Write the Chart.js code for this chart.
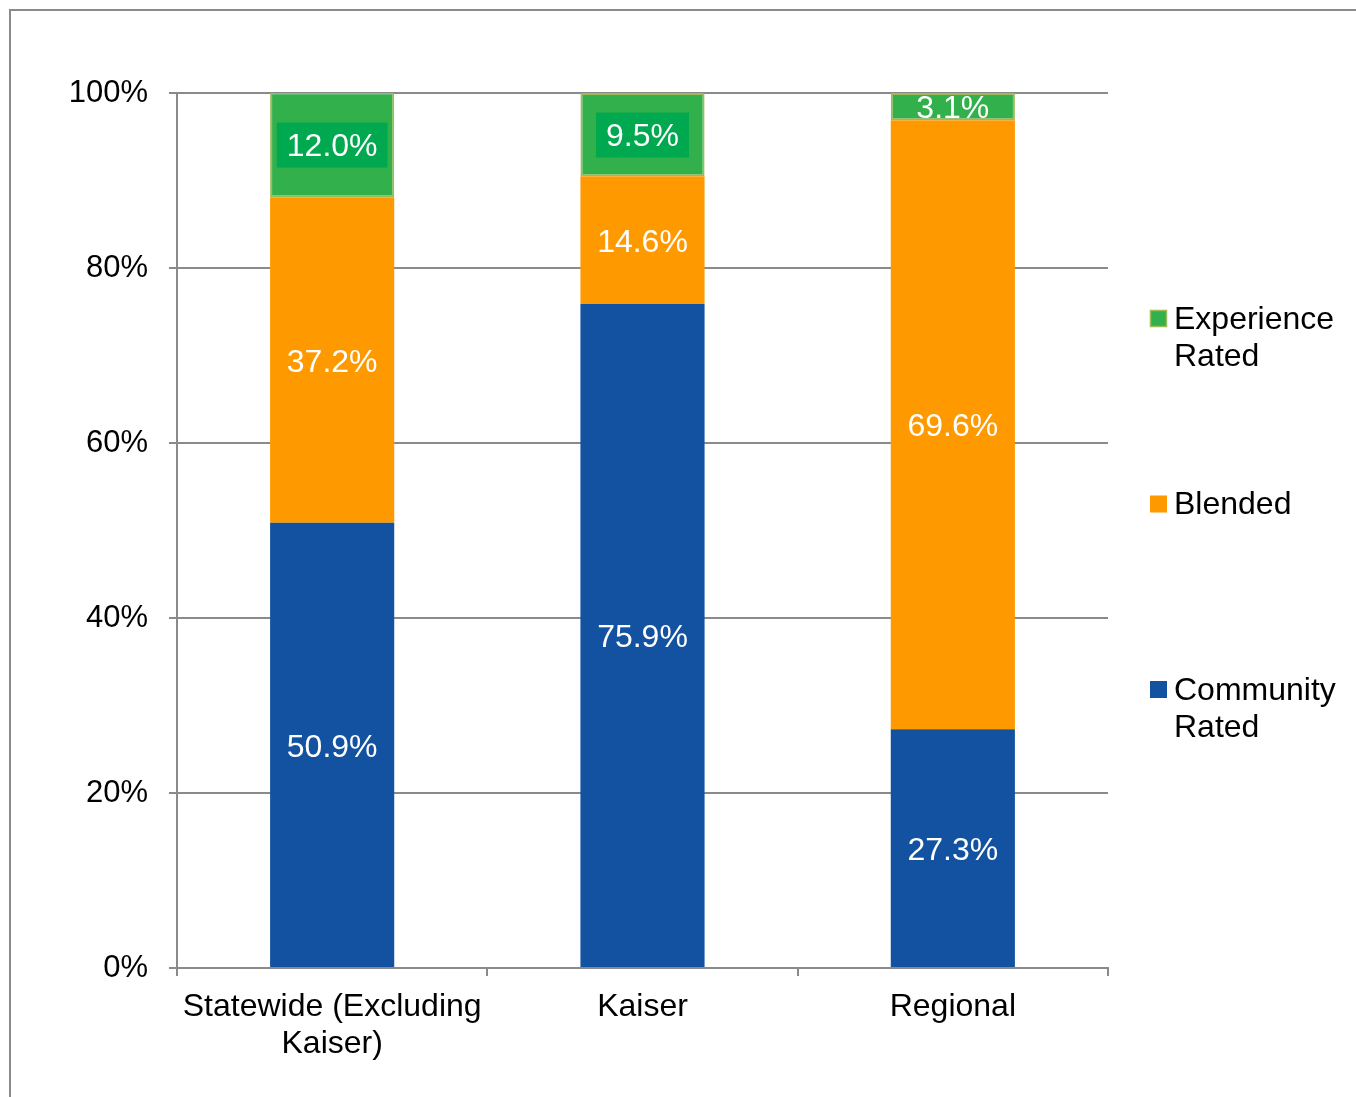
<!DOCTYPE html>
<html>
<head>
<meta charset="utf-8">
<script src="https://cdn.jsdelivr.net/npm/chart.js@4/dist/chart.umd.min.js"></script>
<style>
  body { margin: 0; background: #fff; }
  canvas { display: block; }
</style>
</head>
<body>
<canvas id="mixChart" width="1356" height="1097"></canvas>
<script>
// Categories and series values (percent of enrollment)
const categories = [['Statewide (Excluding', 'Kaiser)'], 'Kaiser', 'Regional'];
const communityRated = [50.9, 75.9, 27.3];
const blended = [37.2, 14.6, 69.6];
const experienceRated = [12.0, 9.5, 3.1];
const yTicks = [0, 20, 40, 60, 80, 100];

const FONT = "'Liberation Sans', Arial, sans-serif";

// Frame around the whole chart (only left and top edges are visible)
const framePlugin = {
    id: 'frame',
    beforeDraw(chart) {
        const ctx = chart.ctx;
        ctx.save();
        ctx.strokeStyle = '#8a8a8a';
        ctx.lineWidth = 2;
        ctx.strokeRect(10, 10, chart.width + 20, chart.height + 20);
        ctx.restore();
    }
};

// Value labels inside each bar segment
const valueLabels = {
    id: 'valueLabels',
    afterDatasetsDraw(chart) {
        const ctx = chart.ctx;
        ctx.save();
        ctx.font = '32px ' + FONT;
        ctx.textAlign = 'center';
        ctx.textBaseline = 'middle';
        chart.data.datasets.forEach((ds, i) => {
            const meta = chart.getDatasetMeta(i);
            meta.data.forEach((bar, j) => {
                const p = bar.getProps(['x', 'y', 'base'], true);
                const cy = (p.y + p.base) / 2;
                const text = ds.data[j].toFixed(1) + '%';
                const w = ctx.measureText(text).width;
                if (ds.labelBox && Math.abs(p.base - p.y) > 50) {
                    ctx.fillStyle = ds.labelBox;
                    ctx.fillRect(p.x - w / 2 - 10, cy - 22, w + 20, 45);
                }
                ctx.fillStyle = '#ffffff';
                ctx.fillText(text, p.x, cy + 3);
            });
        });
        ctx.restore();
    }
};

// Legend on the right, top series first
const sideLegend = {
    id: 'sideLegend',
    afterDraw(chart) {
        const ctx = chart.ctx;
        ctx.save();
        ctx.font = '32px ' + FONT;
        ctx.textBaseline = 'middle';
        const items = chart.data.datasets.slice().reverse();
        items.forEach((ds, k) => {
            const y0 = 318 + k * 185.5;
            ctx.fillStyle = ds.backgroundColor;
            ctx.fillRect(1150, y0 - 8, 17, 17);
            if (ds.borderWidth) {
                ctx.strokeStyle = ds.borderColor;
                ctx.lineWidth = 1.5;
                ctx.strokeRect(1150.5, y0 - 7.5, 16, 16);
            }
            // wrap the label by words
            const words = ds.label.split(' ');
            const lines = [];
            let cur = '';
            words.forEach(wd => {
                const t = cur ? cur + ' ' + wd : wd;
                if (ctx.measureText(t).width > 178 && cur) { lines.push(cur); cur = wd; }
                else cur = t;
            });
            lines.push(cur);
            ctx.fillStyle = '#000';
            lines.forEach((ln, m) => ctx.fillText(ln, 1174, y0 + 2 + m * 37));
        });
        ctx.restore();
    }
};

const ctx = document.getElementById('mixChart').getContext('2d');

new Chart(ctx, {
    type: 'bar',
    data: {
        labels: categories,
        datasets: [
            {
                label: 'Community Rated',
                data: communityRated,
                backgroundColor: '#1352a0',
                borderWidth: 0,
            },
            {
                label: 'Blended',
                data: blended,
                backgroundColor: '#ff9900',
                borderWidth: 0,
            },
            {
                label: 'Experience Rated',
                data: experienceRated,
                backgroundColor: '#31b04b',
                borderColor: '#9bbb59',
                borderWidth: 2,
                borderSkipped: false,
                labelBox: '#00a84f',
            },
        ],
    },
    options: {
        responsive: false,
        animation: false,
        layout: {
            padding: { left: 0, right: 248, top: 93, bottom: 0 },
        },
        datasets: {
            bar: { barPercentage: 0.4, categoryPercentage: 1.0 },
        },
        plugins: {
            legend: { display: false },
            tooltip: { enabled: false },
        },
        scales: {
            x: {
                stacked: true,
                grid: {
                    offset: true,
                    drawOnChartArea: false,
                    drawTicks: true,
                    tickLength: 8,
                    color: '#8a8a8a',
                    lineWidth: 2,
                },
                border: { color: '#8a8a8a', width: 2 },
                ticks: {
                    color: '#000',
                    padding: 13,
                    maxRotation: 0,
                    font: { family: FONT, size: 32, lineHeight: 1.15 },
                },
                afterFit(scale) { scale.height = 129; },
            },
            y: {
                stacked: true,
                min: 0,
                max: 100,
                afterBuildTicks(scale) { scale.ticks = yTicks.map(v => ({ value: v })); },
                grid: {
                    color: '#8a8a8a',
                    lineWidth: 2,
                    drawTicks: true,
                    tickLength: 8,
                },
                border: { color: '#8a8a8a', width: 2 },
                ticks: {
                    color: '#000',
                    padding: 21,
                    font: { family: FONT, size: 31 },
                    callback: v => v + '%',
                },
                afterFit(scale) { scale.width = 177; },
            },
        },
    },
    plugins: [framePlugin, valueLabels, sideLegend],
});
</script>
</body>
</html>
